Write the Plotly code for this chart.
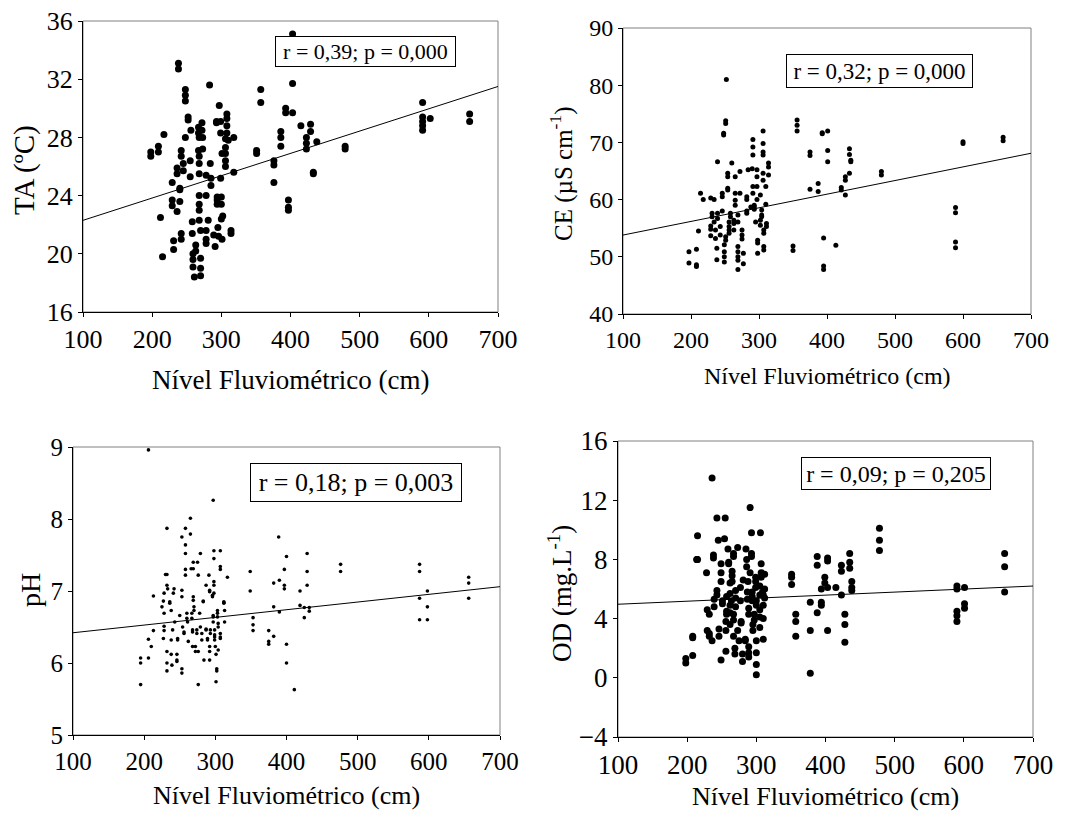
import plotly.graph_objects as go

FONT = "Liberation Serif, Times New Roman, serif"
W, H = 1068, 814
OFF = 8  # page body margin around the plot div

# x = river level (cm); each level has one or more observed values
ta_level = [198, 209, 212, 215, 217, 229, 231, 236, 238, 240, 242, 245, 248, 252, 255, 256, 258, 259, 261, 263,
            267, 268, 270, 272, 273, 278, 281, 283, 284, 285, 289, 291, 293, 294, 295, 296, 297, 299, 300, 301,
            302, 306, 308, 310, 314, 318, 351, 357, 376, 386, 393, 397, 403, 415, 423, 429, 433, 438, 479, 591,
            602, 659]
ta_values = [[27.0, 26.7], [27.4, 27.0], [22.5], [19.8], [28.2], [24.9, 23.7, 23.3], [20.9, 20.3], [25.9, 25.5, 22.9],
             [33.1, 32.7], [24.5, 24.4, 23.6], [21.4, 21.0, 27.1, 26.7], [26.2, 25.7], [31.3, 30.9, 30.5, 28.0],
             [29.4, 29.2], [26.4, 25.3], [28.5], [22.2, 21.4], [20.0, 19.6, 19.1], [18.4], [20.6, 20.2],
             [28.7, 28.3, 27.1], [28.0, 26.7, 26.2, 25.5, 24.0, 23.4, 23.0, 22.3], [21.6, 19.7, 19.0, 18.5],
             [29.0, 28.5], [28.0, 27.2], [25.4, 24.0, 21.6, 21.0, 20.7], [22.3], [31.6], [26.2], [25.2, 24.7],
             [21.3], [20.5], [29.1, 29.0], [23.9, 23.7, 23.4], [21.8], [21.2], [30.2], [29.1, 28.3, 25.2],
             [23.9, 23.4, 22.4], [26.9, 21.0], [22.6], [27.9, 27.3, 26.9, 26.4, 26.0], [29.6, 29.3, 28.8, 28.3],
             [27.8], [21.6, 21.4], [28.0, 25.6], [27.1, 26.9], [31.3, 30.4], [26.4, 26.1, 24.9], [28.4, 28.0, 27.4],
             [30.0, 29.7], [23.7, 23.2, 23.0], [35.1, 31.7, 29.7], [28.8], [28.0, 27.6, 27.2], [28.9, 28.4],
             [25.6, 25.5], [27.7], [27.4, 27.2], [30.4, 29.4, 29.1, 28.8, 28.5], [29.3], [29.6, 29.1]]

ce_level = [197, 208, 211, 214, 218, 229, 231, 234, 236, 238, 239, 243, 246, 248, 249, 251, 252, 254, 256, 258,
            260, 263, 265, 269, 272, 275, 277, 282, 284, 288, 290, 291, 293, 295, 297, 298, 302, 304, 306, 307,
            310, 311, 314, 350, 356, 375, 387, 393, 395, 401, 413, 421, 427, 433, 435, 480, 589, 600, 659]
ce_values = [[50.9, 48.9], [51.3, 48.6, 48.3], [54.5], [61.1], [60.0], [60.3, 55.4, 54.8, 53.7], [57.6, 57.0],
             [60.0, 56.1], [54.7, 53.2], [51.5, 49.5], [66.6, 57.6, 56.7], [53.8, 55.3], [61.1, 60.5, 58.0],
             [71.6, 71.3], [52.1, 50.9, 50.0, 49.1], [73.3, 73.8, 52.9, 53.5], [81.0], [64.6, 64.0, 62.0, 61.7],
             [56.1, 55.3, 54.7, 54.1], [57.6, 57.0], [66.4], [54.7, 56.4, 55.8], [64.0, 61.1, 59.9, 59.0],
             [51.8, 50.9, 50.0, 49.4, 47.8, 57.3, 56.1], [61.1, 64.9], [54.7, 53.8, 53.1], [50.6, 48.8],
             [60.5, 60.0, 58.0, 57.6], [65.2], [58.7], [65.4], [70.5, 69.2, 67.8, 62.3, 61.1], [59.0, 58.7, 58.3],
             [56.1], [65.2, 64.0, 62.3, 60.0], [52.9, 52.4, 50.6], [60.8, 56.4, 55.5], [58.2, 57.3, 57.0],
             [72.0, 69.8, 68.3, 67.8, 64.6, 63.4], [54.7, 54.1, 51.8, 51.2], [62.3, 59.2], [55.8, 55.3],
             [66.4, 65.7, 64.3], [51.9, 51.1], [73.9, 73.0, 72.0], [68.3, 67.7, 61.8], [62.8, 61.4], [71.7, 71.5],
             [53.3, 48.4, 47.8], [72.0, 68.6, 66.6], [52.0], [62.1, 61.7], [64.0, 63.4, 60.8], [68.9, 67.9, 64.6],
             [66.9, 66.6], [64.9, 64.3], [58.6, 57.7, 52.6, 51.6], [70.1, 69.8], [70.9, 70.3]]

ph_level = [195, 206, 210, 213, 225, 227, 228, 230, 232, 233, 236, 238, 239, 240, 241, 242, 243, 246, 247, 250,
            253, 254, 256, 258, 260, 261, 262, 265, 266, 267, 268, 269, 270, 272, 274, 275, 276, 278, 279, 281,
            283, 284, 287, 289, 291, 292, 293, 296, 297, 298, 299, 300, 301, 302, 303, 304, 307, 312, 313, 317,
            349, 353, 375, 382, 389, 390, 397, 400, 411, 419, 425, 429, 432, 476, 587, 598, 656]
ph_values = [[6.07, 6.0, 5.70], [8.96, 6.33, 6.07], [6.23], [6.93, 6.45], [6.78], [6.86, 6.34], [6.97, 6.69, 6.51, 6.45],
             [7.23], [7.23, 7.87, 7.08, 6.16, 6.0, 5.89], [7.03], [6.85, 6.83], [6.73, 6.32, 6.12], [5.97], [6.46],
             [6.97], [7.03], [6.57], [6.12, 6.04, 6.02], [6.32, 6.34], [6.66], [7.75, 7.01, 6.92, 5.92, 5.86],
             [6.50], [6.43, 6.41], [7.87, 7.64, 7.52, 7.30, 7.22], [6.69, 6.62], [6.57], [6.30], [8.01, 7.79],
             [7.31], [6.69, 6.62], [6.46, 6.43, 6.23], [7.40, 7.31, 6.92, 6.87], [6.78, 6.73], [6.23, 6.16],
             [6.41, 6.46], [7.40], [7.22, 6.16, 5.70], [6.69], [7.52, 6.50], [6.41, 6.32], [6.85, 6.86], [6.04],
             [7.08, 6.46, 6.47], [6.32, 6.34], [7.22], [7.01, 6.99, 6.23, 6.16, 6.04], [6.46, 6.41], [6.92, 6.94],
             [8.26, 6.66, 6.64, 6.57], [7.56, 7.45, 7.13, 7.08, 6.97], [6.46, 6.39, 6.36, 6.32], [6.23],
             [6.12, 5.74], [5.92, 5.89], [6.73, 6.69, 6.64], [6.55, 6.50, 6.18], [7.56, 7.34, 7.30, 6.41, 6.36, 6.34],
             [6.85, 6.83, 6.84], [6.57, 6.73], [7.19], [7.27, 7.0], [6.63, 6.53, 6.45], [6.45, 6.30, 6.26],
             [7.11, 6.78, 6.37], [7.75], [7.15, 6.71], [7.30, 7.08, 7.03], [7.48, 6.26, 6.0], [5.63], [7.0, 6.80],
             [6.77, 6.63], [7.52, 7.27, 7.08], [6.77, 6.72], [7.37, 7.27], [7.37, 7.27, 6.90, 6.60],
             [7.0, 6.78, 6.60], [7.19, 7.11, 6.90]]

od_level = [198, 208, 214, 215, 228, 229, 232, 236, 238, 239, 243, 245, 246, 249, 251, 254, 255, 256, 257, 259,
            260, 262, 264, 265, 267, 269, 270, 273, 275, 277, 278, 280, 281, 284, 285, 286, 287, 288, 289, 291,
            293, 294, 295, 297, 299, 300, 305, 306, 307, 309, 310, 312, 351, 357, 378, 388, 394, 399, 403, 415,
            423, 428, 435, 438, 478, 590, 601, 659]
od_values = [[1.3, 1.0], [2.8, 2.7, 1.5], [8.0, 8.0], [9.6, 8.0], [7.1], [4.6, 3.2], [4.3, 3.0, 2.8], [13.5, 2.5],
             [8.3, 8.1], [5.3, 4.8], [5.6, 5.9, 10.8], [9.3], [3.3, 2.8], [7.7, 7.1, 6.5, 1.2], [5.2, 5.0], [9.4],
             [10.8], [1.8, 3.8, 3.2], [5.5, 4.3, 4.5], [8.7], [7.8, 7.7], [6.4, 5.7, 4.9, 4.4, 3.6], [5.2],
             [7.2, 6.9, 6.5], [8.4, 8.2, 4.3, 3.9, 2.8], [2.0, 1.6], [5.9, 5.4, 4.8], [8.8, 3.2], [2.5], [6.1, 5.2],
             [3.8, 3.7], [1.6, 1.1], [6.6], [2.5, 2.6], [8.7], [8.0, 7.5], [5.8, 5.3], [6.5], [4.7, 4.3, 2.1, 1.7, 1.4],
             [7.1, 11.5], [9.8, 8.4, 8.2], [5.8, 5.5, 5.2], [3.6, 3.2], [4.3, 3.9], [6.8, 6.5, 6.1],
             [5.2, 4.9, 2.5, 1.7, 0.9, 0.2], [6.2, 5.6, 4.6, 4.1, 3.4], [9.8], [7.7, 7.1, 6.8], [5.8],
             [5.6, 4.9, 4.0, 2.6], [7.0, 6.0, 5.4], [7.0, 6.8, 6.3], [4.3, 3.8, 2.8], [5.1, 3.2, 0.3], [8.2, 7.6, 4.4],
             [6.0, 5.1, 4.9], [6.8, 6.4], [7.9, 8.1, 6.1, 3.2], [6.1], [7.6, 7.2, 5.6], [4.3, 3.6, 2.4],
             [8.4, 7.8, 7.4], [6.5, 6.1, 5.9], [10.1, 9.3, 8.6], [6.2, 6.0, 4.5, 4.2, 3.8], [6.1, 5.0, 4.7],
             [8.4, 7.5, 5.8]]

# fitted lines, read at x = 100 and x = 700
fit_x = [100, 700]
ta_fit = [22.3, 31.5]
ce_fit = [53.8, 68.1]
ph_fit = [6.42, 7.06]
od_fit = [4.97, 6.2]

x_ticks = [100, 200, 300, 400, 500, 600, 700]
stats = ["r = 0,39; p = 0,000", "r = 0,32; p = 0,000", "r = 0,18; p = 0,003", "r = 0,09; p = 0,205"]
y_titles = ["TA (ºC)", "CE (µS cm<sup>-1</sup>)", "pH", "OD (mg.L<sup>-1</sup>)"]
x_title = "Nível Fluviométrico (cm)"


def expand(levels, groups):
    xs, ys = [], []
    for lv, vals in zip(levels, groups):
        xs += [lv] * len(vals)
        ys += vals
    return xs, ys


def px(v):
    return (v - OFF) / W


def py(v):
    return 1 - (v - OFF) / H


panels = [
    # data, fit, plot px box (x0, x1, y0, y1), y range, dtick, marker, tick font,
    # y title (x, y, size), x title (y, size), stat box (x0, x1, y0, y1, size)
    dict(d=expand(ta_level, ta_values), fit=ta_fit, box=(83, 498, 21, 312), yr=(16, 36), dt=4, ms=7, tf=26,
         yt=(24, 170, 29), xt=(380, 27), sb=(275, 456, 36, 67, 22)),
    dict(d=expand(ce_level, ce_values), fit=ce_fit, box=(623, 1031, 28, 314), yr=(40, 90), dt=10, ms=5, tf=24,
         yt=(562, 174, 25), xt=(376, 24), sb=(786, 973, 54, 88, 23)),
    dict(d=expand(ph_level, ph_values), fit=ph_fit, box=(73, 500, 447, 735), yr=(5, 9), dt=1, ms=3.6, tf=25,
         yt=(30, 590, 28), xt=(795, 26), sb=(250, 462, 463, 502, 26)),
    dict(d=expand(od_level, od_values), fit=od_fit, box=(618, 1033, 441, 737), yr=(-4, 16), dt=4, ms=7, tf=27,
         yt=(560, 594, 27), xt=(796, 26), sb=(801, 991, 457, 490, 24)),
]

fig = go.Figure()
layout = dict(width=W, height=H, autosize=False, margin=dict(l=0, r=0, t=0, b=0, pad=0),
              paper_bgcolor="white", plot_bgcolor="white", showlegend=False,
              font=dict(family=FONT, color="black"))

for i, p in enumerate(panels, start=1):
    sx = "" if i == 1 else str(i)
    x0, x1, y0, y1 = p["box"]
    xs, ys = p["d"]
    fig.add_trace(go.Scatter(x=xs, y=ys, mode="markers", xaxis="x" + sx, yaxis="y" + sx,
                             marker=dict(color="black", size=p["ms"], line=dict(width=0))))
    fig.add_trace(go.Scatter(x=fit_x, y=p["fit"], mode="lines", xaxis="x" + sx, yaxis="y" + sx,
                             line=dict(color="black", width=1)))
    layout["xaxis" + sx] = dict(domain=[px(x0), px(x1)], anchor="y" + sx, range=[100, 700], automargin=False,
                               tickvals=x_ticks, ticks="outside", ticklen=4, tickcolor="black",
                               ticklabeloverflow="allow",
                               showline=True, linecolor="black", linewidth=1, showgrid=False, zeroline=False,
                               tickfont=dict(family=FONT, size=p["tf"], color="black"))
    yt0, yt1 = p["yr"]
    layout["yaxis" + sx] = dict(domain=[py(y1), py(y0)], anchor="x" + sx, range=[yt0, yt1],
                               automargin=False, tick0=yt0, dtick=p["dt"], ticks="outside", ticklen=4,
                               tickcolor="black", ticklabeloverflow="allow", showline=True,
                               linecolor="black", linewidth=1, showgrid=False, zeroline=False,
                               tickfont=dict(family=FONT, size=p["tf"], color="black"))
    # grey frame on top and right
    fig.add_shape(type="rect", xref="x%s domain" % sx, yref="y%s domain" % sx, x0=0, x1=1, y0=0, y1=1,
                  line=dict(color="#808080", width=1), layer="below")
    tx, ty, ts = p["yt"]
    fig.add_annotation(text=y_titles[i - 1], xref="paper", yref="paper", x=px(tx), y=py(ty),
                       xanchor="center", yanchor="middle", textangle=-90, showarrow=False,
                       font=dict(family=FONT, size=ts, color="black"))
    xy, xsz = p["xt"]
    fig.add_annotation(text=x_title, xref="paper", yref="paper", x=px((x0 + x1) / 2), y=py(xy),
                       xanchor="center", yanchor="middle", showarrow=False,
                       font=dict(family=FONT, size=xsz, color="black"))
    bx0, bx1, by0, by1, bs = p["sb"]
    fig.add_annotation(text=stats[i - 1], xref="paper", yref="paper", x=px((bx0 + bx1) / 2),
                       y=py((by0 + by1) / 2), xanchor="center", yanchor="middle", showarrow=False,
                       width=bx1 - bx0 - 2, height=by1 - by0 - 2, borderpad=0, bordercolor="black",
                       borderwidth=1, bgcolor="white", font=dict(family=FONT, size=bs, color="black"))

fig.update_layout(**layout)
fig.write_html("out.html")
